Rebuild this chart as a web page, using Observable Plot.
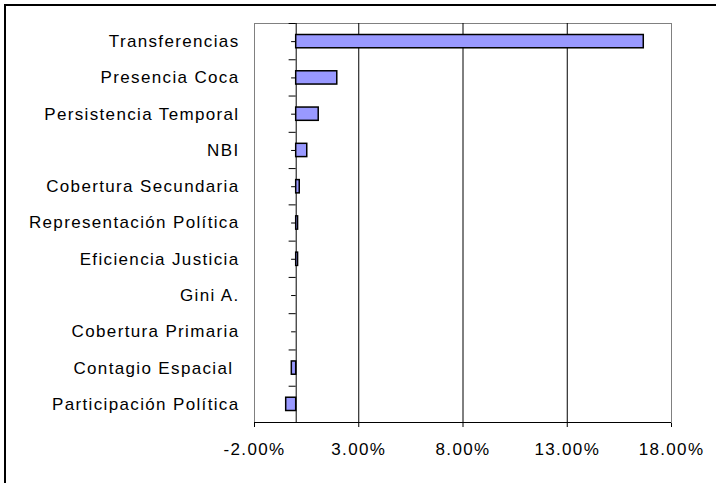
<!DOCTYPE html>
<html><head><meta charset="utf-8">
<script src="https://cdn.jsdelivr.net/npm/d3@7"></script>
<script src="https://cdn.jsdelivr.net/npm/@observablehq/plot@0.6"></script>
<style>
html,body{margin:0;padding:0;background:#fff;overflow:hidden;width:716px;height:483px;}
#border{position:absolute;left:4px;top:4px;width:900px;height:700px;border:2px solid #000;}
#chart{position:absolute;left:0;top:0;}
</style></head><body>
<div id="border"></div><div id="chart"></div>
<script>
const categories = [
  "Transferencias",
  "Presencia Coca",
  "Persistencia Temporal",
  "NBI",
  "Cobertura Secundaria",
  "Representación Política",
  "Eficiencia Justicia",
  "Gini A.",
  "Cobertura Primaria",
  "Contagio Espacial\u00a0",
  "Participación Política"
];
const values = [16.67, 1.97, 1.08, 0.53, 0.17, 0.09, 0.09, 0, 0, -0.21, -0.48];
const xTicks = [-2, 3, 8, 13, 18];
const gridLines = [3, 8, 13];

const data = categories.map((name, i) => ({name, value: values[i], i}));
const boundaries = d3.range(0, categories.length + 1);
const centers = d3.range(categories.length).map(i => i + 0.5);

const plot = Plot.plot({
  width: 716, height: 483,
  marginLeft: 254, marginRight: 45, marginTop: 23, marginBottom: 61,
  style: {fontFamily: "'Liberation Sans', Arial, sans-serif", fontSize: "17px", letterSpacing: "1.35px", background: "transparent", color: "#000"},
  x: {domain: [-2, 18], ticks: xTicks, tickFormat: d => d.toFixed(2) + "%", tickSize: 5, tickPadding: 15, label: null},
  y: {domain: [categories.length, 0], ticks: centers, tickFormat: d => categories[Math.floor(d)], tickSize: 0, tickPadding: 15, label: null},
  marks: [
    Plot.frame({stroke: "#808080"}),
    Plot.ruleX(gridLines, {stroke: "#000"}),
    Plot.ruleX([0], {stroke: "#000"}),
    Plot.ruleY([categories.length], {stroke: "#000"}),
    Plot.ruleY(boundaries, {x1: -0.34, x2: 0, stroke: "#000"}),
    Plot.ruleY(centers, {x1: -0.22, x2: 0, stroke: "#000"}),
    Plot.rectX(data, {x1: 0, x2: "value", y1: "i", y2: d => d.i + 1, insetTop: 11.5, insetBottom: 11.5, fill: "#9999ff", stroke: "#000", strokeWidth: 1.5})
  ]
});
document.getElementById("chart").appendChild(plot);
</script>
</body></html>
